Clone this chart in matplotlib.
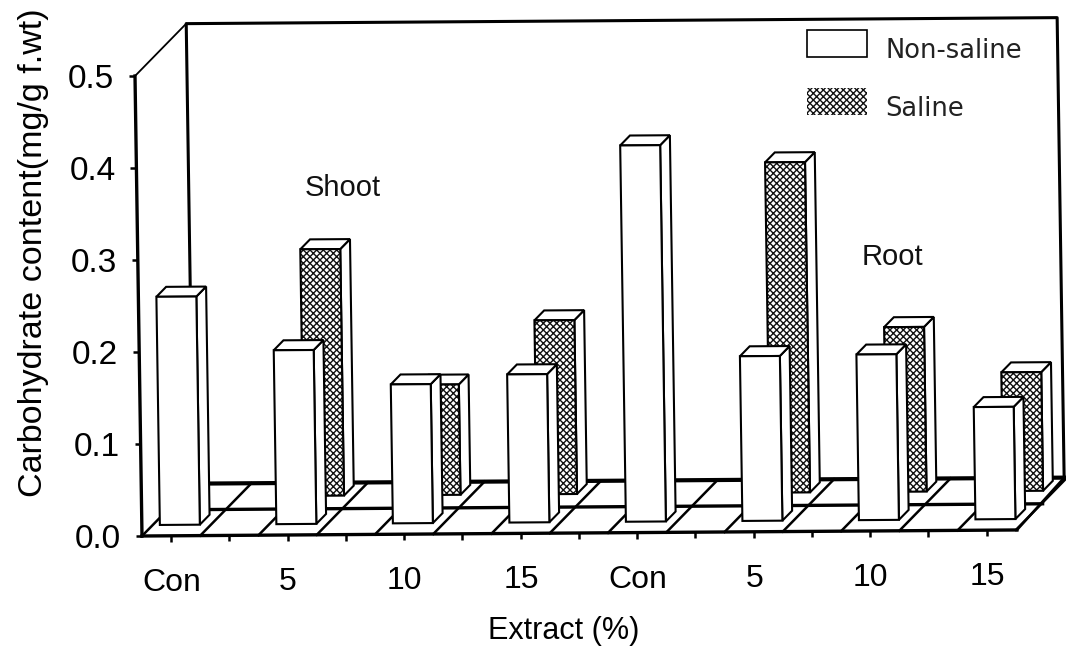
import numpy as np
import matplotlib
matplotlib.use("Agg")
import matplotlib.pyplot as plt
from matplotlib.patches import Polygon, Patch
from matplotlib.transforms import Affine2D

categories = ["Con", "5", "10", "15", "Con", "5", "10", "15"]
non_saline = [0.248, 0.189, 0.151, 0.161, 0.409, 0.179, 0.180, 0.122]
saline = [np.nan, 0.268, 0.120, 0.189, np.nan, 0.359, 0.179, 0.129]
y_ticks = [0.0, 0.1, 0.2, 0.3, 0.4, 0.5]

W, H = 1066, 647
plt.rcParams['font.family'] = ['Liberation Sans', 'DejaVu Sans']
plt.rcParams['hatch.linewidth'] = 1.0
fig = plt.figure(figsize=(W / 100, H / 100), dpi=100)
ax = fig.add_axes([142 / W, 111 / H, 875 / W, 460 / H])
ax.set_xlim(-0.25, 7.26)
ax.set_ylim(0, 0.5)
ax.patch.set_visible(False)

# slight skew of the scanned page, about the axis origin
shear = Affine2D().translate(-142, -111) + Affine2D.from_values(1, 0.0069, -0.0152, 1, 0, 0) + Affine2D().translate(142, 111)
T = ax.transData + shear

DX, DY = 52 / 116.5, 52 / 920
XL, XR = -0.25, 7.26
XR_WALL = 7.225
TOP = 0.5
MESH = dict(fc='white', ec='#111111', hatch='xxxxx')


def P(x, y, z):
    return (x + z * DX, y + z * DY)


def line(pts, lw, z=2):
    xs, ys = zip(*[P(*p) for p in pts])
    ax.plot(xs, ys, color='black', lw=lw, transform=T, clip_on=False, zorder=z,
            solid_capstyle='projecting')


# walls
line([(XL, 0, 1), (XL, TOP, 1), (XR_WALL, TOP, 1), (XR_WALL, 0, 1)], 2.2)
line([(XL, TOP, 0), (XL, TOP, 1)], 1.3)
# floor
line([(XL, 0, 1), (XR_WALL, 0, 1)], 3.0)
line([(XL, 0, 0.5), (XR, 0, 0.5)], 2.4)
for k in np.arange(XL, XR + 0.01, 0.5):
    line([(k, 0, 0), (k, 0, 1)], 1.8)
line([(XR, 0, 0), (XR_WALL, 0, 1)], 1.8)


def bar(i, v, z0, dark, zo):
    x0, w, d = i - 0.189, 0.343, 0.19
    x1 = x0 + w
    z1 = z0 + d
    front = [P(x0, 0, z0), P(x1, 0, z0), P(x1, v, z0), P(x0, v, z0)]
    side = [P(x1, 0, z0), P(x1, 0, z1), P(x1, v, z1), P(x1, v, z0)]
    top = [P(x0, v, z0), P(x1, v, z0), P(x1, v, z1), P(x0, v, z1)]
    for pts in (side, top):
        ax.add_patch(Polygon(pts, closed=True, fc='white', ec='black', lw=1.5,
                             transform=T, clip_on=False, zorder=zo))
    if dark:
        ax.add_patch(Polygon(front, closed=True, lw=0, transform=T, clip_on=False,
                             zorder=zo, **MESH))
        ax.add_patch(Polygon(front, closed=True, fill=False, ec='black', lw=1.5,
                             transform=T, clip_on=False, zorder=zo))
    else:
        ax.add_patch(Polygon(front, closed=True, fc='white', ec='black', lw=1.5,
                             transform=T, clip_on=False, zorder=zo))


for i, v in enumerate(saline):
    if not np.isnan(v):
        bar(i, v, 0.75, True, 3)
for i, v in enumerate(non_saline):
    bar(i, v, 0.21, False, 4)

# axes, ticks, labels
for s in ('top', 'right'):
    ax.spines[s].set_visible(False)
for s in ('left', 'bottom'):
    sp = ax.spines[s]
    sp.set_position(('outward', 0))
    sp.set_linewidth(2.4)
    sp.set_transform(sp.get_transform() + shear)
    sp.set_zorder(5)

ax.set_xticks(range(len(categories)))
ax.set_xticklabels(categories, fontsize=23)
ax.set_xticks(np.arange(0.5, 7.1, 1), minor=True)
ax.set_yticks(y_ticks)
ax.set_yticklabels([f"{t:.1f}" for t in y_ticks], fontsize=24)
ax.tick_params(axis='x', which='both', direction='out', length=4, width=1.8, pad=19)
ax.tick_params(axis='y', which='major', direction='out', length=4, width=1.8, pad=11)

for axis in (ax.xaxis, ax.yaxis):
    for tick in axis.get_major_ticks() + axis.get_minor_ticks():
        tick.tick1line.set_transform(tick.tick1line.get_transform() + shear)
        tick.label1.set_transform(tick.label1.get_transform() + shear)

ax.set_ylabel("Carbohydrate content(mg/g f.wt)", fontsize=24.5, va='center')
ax.yaxis.set_label_coords((34 - 142) / 875, (536 - 253) / 460)
ax.set_xlabel("Extract (%)", fontsize=22, va='center')
ax.xaxis.set_label_coords((564 - 142) / 875, (536 - 631) / 460)

fig.text(343 / W, 1 - 188 / H, "Shoot", fontsize=21, ha='center', va='center', color='#111111')
fig.text(892 / W, 1 - 257 / H, "Root", fontsize=21, ha='center', va='center', color='#111111')

handles = [Patch(fc='white', ec='black', lw=1.2, label="Non-saline"),
           Patch(lw=0, label="Saline", **MESH)]
fs = 18.5
px = fs * 100 / 72
hh = (27 / px - 0.245) / 0.65
leg = fig.legend(handles=handles, loc='upper left', bbox_to_anchor=(807 / W, 1 - 30 / H),
                 frameon=False, borderpad=0, borderaxespad=0,
                 handlelength=60 / px, handleheight=hh, labelspacing=29.5 / px,
                 handletextpad=18 / px, prop={'family': 'DejaVu Sans', 'size': fs})
for t in leg.get_texts():
    t.set_y(-6)
    t.set_color('#222222')

fig.savefig("out.png", dpi=100)
